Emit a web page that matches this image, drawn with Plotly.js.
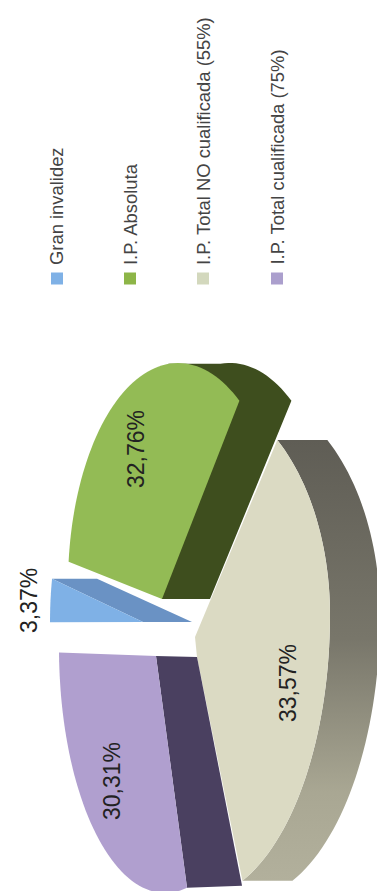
<!DOCTYPE html>
<html><head><meta charset="utf-8">
<script src="https://cdn.plot.ly/plotly-3.0.1.min.js"></script>
<style>html,body{margin:0;padding:0;background:#fff}#c{width:377px;height:891px}</style>
</head><body><div id="c"></div>
<script>
const categories = ["Gran invalidez","I.P. Absoluta","I.P. Total NO cualificada (55%)","I.P. Total cualificada (75%)"];
const values = [3.37,32.76,33.57,30.31];

// drawing geometry of the rotated perspective pie
const faceColors = ["#7fb1e6","#93bb55","#dbdac3","#b09fcf"];
const sideColors = ["#6a92c4","#3e4e1e","#5f5d55","#4a4060"];
const legendColors = ["#7fb1e6","#8db548","#d3d8bd","#ab9fcd"];
const geom = [
 {cx:143,cy:622,a:93,b:207,start:179.9,ax:143,ay:622,d0:49,d1:45,persp:1},
 {cx:178,cy:585,a:110,b:222,start:186,ax:162,ay:599,d0:48,d1:52,sideTo:265,persp:1},
 {cx:193,cy:615,a:137,b:222,b2:285,start:-52,ax:195,ay:637,d1:50,persp:1,kx:197,ky:657},
 {cx:165,cy:648,a:106,b:245,start:78,ax:156,ay:656,d0:41,d1:55,persp:0.925}
];
const labelPos = [[29,601],[136,449],[288,683],[112,781]];
const legendX = [56,130,203,277];

function arc(g,t0,t1){
  const n=Math.max(6,Math.round(Math.abs(t1-t0)/2)), xs=[], ys=[];
  for(let i=0;i<=n;i++){
    const t=(t0+(t1-t0)*i/n)*Math.PI/180, s=Math.sin(t);
    const b=(s>0&&g.b2)?g.b2:g.b;
    xs.push(g.cx+g.a*Math.cos(t)); ys.push(g.cy+b*s);
  }
  return [xs,ys];
}
function poly(x,y,color,name,extra){
  return Object.assign({type:"scatter",mode:"none",x:x,y:y,fill:"toself",fillcolor:color,
    name:name,hoverinfo:"name",showlegend:false},extra||{});
}
const spans = values.map((v,i)=>[geom[i].start, geom[i].start+v*3.6*geom[i].persp]);
const traces=[];

// beige wall (outer rim) with gradient
{
  const g=geom[2],[s,e]=spans[2],[ax,ay]=arc(g,s,e);
  const x=ax.concat(ax.slice().reverse().map(v=>v+g.d1));
  const y=ay.concat(ay.slice().reverse());
  traces.push(poly(x,y,sideColors[2],categories[2],{fillgradient:{type:"vertical",
    colorscale:[[0,"#b2b09c"],[0.2,"#a9a793"],[0.55,"#78766a"],[1,"#5f5d55"]]}}));
  traces.push(poly([g.ax].concat(ax,[g.kx]),[g.ay].concat(ay,[g.ky]),faceColors[2],categories[2]));
}
// green
{
  const g=geom[1],[s,e]=spans[1],[ax,ay]=arc(g,s,e);
  const [bx,by]=arc(g,e,g.sideTo);
  const x=[g.ax,g.ax+g.d0].concat(bx.map(v=>v+g.d1),[bx[bx.length-1]]);
  const y=[g.ay,g.ay].concat(by,[by[by.length-1]]);
  traces.push(poly(x,y,sideColors[1],categories[1]));
  traces.push(poly([g.ax].concat(ax),[g.ay].concat(ay),faceColors[1],categories[1]));
}
// blue
{
  const g=geom[0],[s,e]=spans[0],[ax,ay]=arc(g,s,e);
  const lx=ax[ax.length-1], ly=ay[ay.length-1];
  traces.push(poly([g.ax,g.ax+g.d0,lx+g.d1,lx],[g.ay,g.ay,ly,ly],sideColors[0],categories[0]));
  traces.push(poly([g.ax].concat(ax),[g.ay].concat(ay),faceColors[0],categories[0]));
}
// purple
{
  const g=geom[3],[s,e]=spans[3],[ax,ay]=arc(g,s,e);
  traces.push(poly([g.ax,g.ax+g.d0,ax[0]+g.d1,ax[0]],[g.ay,g.ay+1,ay[0]-2,ay[0]],sideColors[3],categories[3]));
  traces.push(poly([g.ax].concat(ax),[g.ay].concat(ay),faceColors[3],categories[3]));
}
// legend swatches
traces.push({type:"scatter",mode:"markers",x:[57,130,203,277],y:categories.map(()=>278.5),
  marker:{symbol:"square",size:12,color:legendColors},text:categories,hoverinfo:"text",showlegend:false});

const annotations=[];
values.forEach((v,i)=>annotations.push({x:labelPos[i][0],y:labelPos[i][1],xref:"x",yref:"y",showarrow:false,
  text:v.toFixed(2).replace(".",",")+"%",textangle:-90,font:{family:"Liberation Sans",size:23,color:"#222"}}));
categories.forEach((c,i)=>annotations.push({x:legendX[i],y:267,xref:"x",yref:"y",showarrow:false,
  text:c,textangle:-90,yanchor:"bottom",xanchor:"center",font:{family:"Liberation Sans",size:18.4,color:"#444"}}));

Plotly.newPlot("c",traces,{
  width:377,height:891,margin:{l:0,r:0,t:0,b:0},paper_bgcolor:"#fff",plot_bgcolor:"#fff",showlegend:false,
  xaxis:{range:[0,377],visible:false,fixedrange:true},
  yaxis:{range:[891,0],visible:false,fixedrange:true},
  annotations:annotations
},{displayModeBar:false,staticPlot:true});
</script></body></html>
